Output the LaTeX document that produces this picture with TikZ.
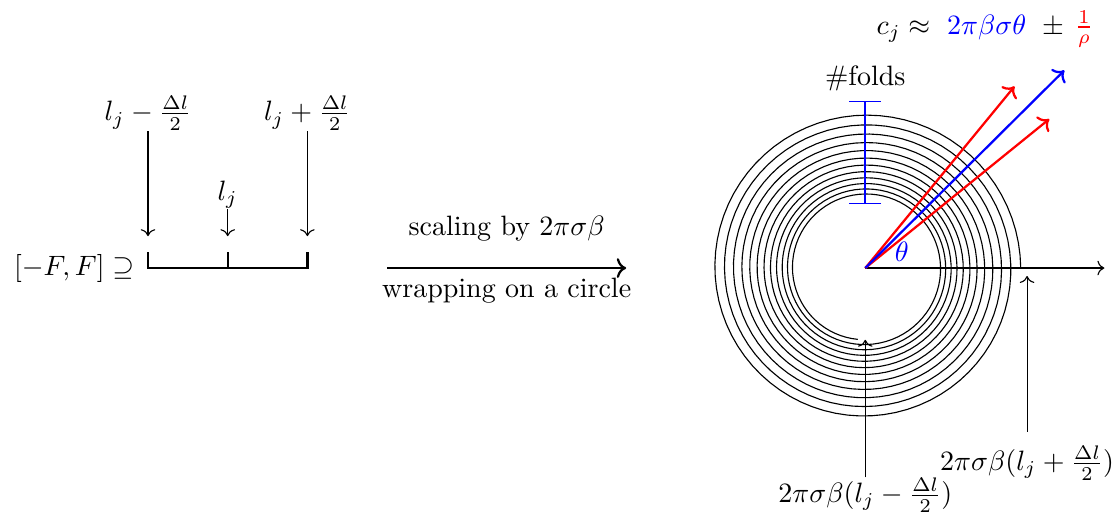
\documentclass[tikz,border=0pt]{standalone}
\usepackage{amsmath, amssymb}
\usepackage{tikz}
\usetikzlibrary{arrows.meta, calc}
\usepackage{xcolor}

\begin{document}
\begin{tikzpicture}[ray/.style={thick,->}, lbl/.style={inner sep=0pt}]
  \useasboundingbox (-1.857,-3.225) rectangle (12.146,3.363);
  % interval on the line
  \draw[thick](0,0.2)--(0,0)--(2,0)--(2,0.2);
  \draw[thick](1,0)--(1,0.2);
  \node[left] (setF) at (-0.05,0) {$[-F,F]\supseteq$};
  \node[lbl] (lminus) at (0,1.94) {$l_j-\frac{\Delta l}{2}$};
  \node[lbl] (lmid) at (1,0.92) {$l_j$};
  \node[lbl] (lplus) at (2,1.94) {$l_j+\frac{\Delta l}{2}$};
  \coordinate (tminus) at (0,0.4);
  \coordinate (tmid) at (1,0.4);
  \coordinate (tplus) at (2,0.4);
  \draw[->](lminus)--(tminus);
  \draw[->](lmid)--(tmid);
  \draw[->](lplus)--(tplus);
  % scaling arrow
  \coordinate (ws) at (3,0);
  \coordinate (we) at (6,0);
  \draw[thick,->](ws)--(we)
    node[midway,above=6pt] (scaling) {scaling by $2\pi\sigma\beta$}
    node[midway,below] (wrapping) {wrapping on a circle};
  % spiral
  \coordinate (O) at (9,0);
  \coordinate (xend) at (12,0);
  \draw[->](O)--(xend);
  \draw[shift={(9,0)},domain=-3960:264,samples=900,variable=\t]
    plot (\t:{0.9*exp(0.000189*(264-\t))});
  % number of folds
  \coordinate (fbot) at (9,0.8);
  \coordinate (ftop) at (9,2.1);
  \draw[blue,semithick,{Bar[width=4mm]}-{Bar[width=4mm]}](fbot)--(ftop);
  \node[above] (folds) at (ftop) {\#folds};
  % directions
  \path (O) ++(50.6:2.95) coordinate (rhi);
  \path (O) ++(39:2.97) coordinate (rlo);
  \path (O) ++(44.8:3.52) coordinate (bmid);
  \draw[ray,red](O)--(rhi);
  \draw[ray,red](O)--(rlo);
  \draw[ray,blue](O)--(bmid);
  \node[blue] (theta) at (9.46,0.2) {$\theta$};
  \node (cj) at (10.5,3.0) {$c_j\approx\ {\color{blue}2\pi\beta\sigma\theta}\ \pm\,{\color{red}\frac{1}{\rho}}$};
  % end points of the spiral
  \node[lbl] (lab1) at (9,-2.85) {$2\pi\sigma\beta(l_j-\frac{\Delta l}{2})$};
  \node[inner sep=5pt] (lab2) at (11.03,-2.45) {$2\pi\sigma\beta(l_j+\frac{\Delta l}{2})$};
  \coordinate (s1) at (9,-0.9);
  \coordinate (s2) at (11.03,-0.1);
  \draw[->](lab1)--(s1);
  \draw[->](lab2)--(s2);
\end{tikzpicture}
\end{document}
